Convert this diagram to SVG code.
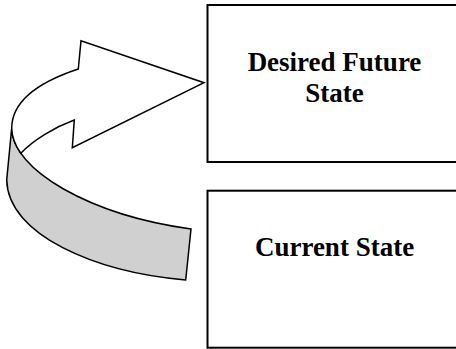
<svg xmlns="http://www.w3.org/2000/svg" width="456" height="349" viewBox="0 0 456 349">
<style>
.box{fill:#fff;stroke:#000;stroke-width:2}
.lbl{font-family:"Liberation Serif","Times New Roman",serif;font-weight:bold;font-size:27px;fill:#000;text-anchor:middle}
.shape{stroke:#000;stroke-width:1.5;stroke-linejoin:miter}
</style>
<rect width="456" height="349" fill="#fff"/>
<g id="connectors">
<path class="shape" fill="#d0d0d0" d="M11.7,128 C12,170 90,215 191,229 L185.7,280 C95,272 8,235 6.7,180 Z"/>
<path class="shape" fill="#fff" d="M78.3,69 L81,40.7 L204,82.7 L72.3,147.7 L74.3,120 C55,127 33,140 20.8,153.3 C14.9,144.9 11.76,136.4 11.7,128 C12,98 45,80 78.3,69 Z"/>
</g>
<g id="desired">
<rect class="box" x="207.5" y="5" width="260" height="157"/>
<text class="lbl" x="334.5" y="71">Desired Future</text>
<text class="lbl" x="334.5" y="101.5">State</text>
</g>
<g id="current">
<rect class="box" x="207.5" y="190.7" width="260" height="157"/>
<text class="lbl" x="334.5" y="256">Current State</text>
</g>
</svg>
